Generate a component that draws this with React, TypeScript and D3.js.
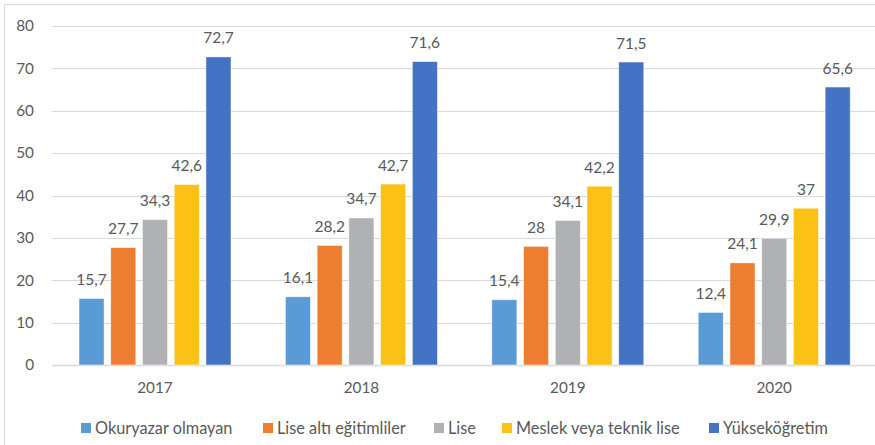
import React from "react";
import * as d3 from "d3";

const years = ["2017", "2018", "2019", "2020"];
const seriesNames = [
  "Okuryazar olmayan",
  "Lise altı eğitimliler",
  "Lise",
  "Meslek veya teknik lise",
  "Yükseköğretim",
];
const okuryazarOlmayan = [15.7, 16.1, 15.4, 12.4];
const liseAlti = [27.7, 28.2, 28, 24.1];
const lise = [34.3, 34.7, 34.1, 29.9];
const meslekTeknik = [42.6, 42.7, 42.2, 37];
const yuksekogretim = [72.7, 71.6, 71.5, 65.6];
const yTicks = [0, 10, 20, 30, 40, 50, 60, 70, 80];

const seriesValues = [okuryazarOlmayan, liseAlti, lise, meslekTeknik, yuksekogretim];
const colors = ["#5B9BD5", "#ED7D31", "#B0B1B4", "#FBC116", "#4472C4"];

const W = 875;
const H = 445;
const FONT = "Lato, 'Open Sans', sans-serif";
const TEXT = "#595959";
const GRID = "#D9D9D9";

const fmt = (v: number) => String(v).replace(".", ",");

// legend square x positions for each entry
const legendX = [81, 263, 434, 502, 709];

export default function App() {
  const y = d3.scaleLinear().domain([0, 80]).range([365, 26]);
  const x0 = d3.scaleBand<string>().domain(years).range([51.8, 877.4]).padding(0);
  const x1 = d3
    .scaleBand<number>()
    .domain(d3.range(seriesNames.length))
    .range([-76, 76])
    .paddingInner(0.21)
    .paddingOuter(0);

  return (
    <svg
      width={W}
      height={H}
      style={{ position: "absolute", left: 0, top: 0, background: "#fff" }}
      fontFamily={FONT}
    >
      <rect x={4.5} y={4.5} width={W + 20} height={H + 20} fill="#fff" stroke={GRID} />
      {yTicks.map((t) => (
        <g key={t}>
          <line x1={52} x2={W} y1={Math.round(y(t)) + 0.5} y2={Math.round(y(t)) + 0.5} stroke={GRID} strokeWidth={t === 0 ? 1.3 : 1} />
          <text x={34} y={y(t)} dy="0.35em" textAnchor="end" fontSize={15.3} fill={TEXT}>
            {t}
          </text>
        </g>
      ))}
      {years.map((yr, i) => {
        const cx = (x0(yr) as number) + x0.bandwidth() / 2;
        return (
          <g key={yr}>
            {seriesValues.map((vals, s) => {
              const v = vals[i];
              const bx = cx + (x1(s) as number);
              return (
                <g key={s}>
                  <rect
                    x={bx}
                    y={y(v)}
                    width={x1.bandwidth()}
                    height={y(0) - y(v)}
                    fill={colors[s]}
                    stroke="#fff"
                    strokeOpacity={0.6}
                    strokeWidth={0.8}
                  />
                  <text
                    x={bx + x1.bandwidth() / 2}
                    y={y(v) - 13.5}
                    textAnchor="middle"
                    fontSize={15.5}
                    fill={TEXT}
                  >
                    {fmt(v)}
                  </text>
                </g>
              );
            })}
            <text x={cx} y={388} dy="0.35em" textAnchor="middle" fontSize={15.3} fill={TEXT}>
              {yr}
            </text>
          </g>
        );
      })}
      {seriesNames.map((name, s) => (
        <g key={name}>
          <rect x={legendX[s]} y={423} width={10} height={10} fill={colors[s]} />
          <text x={legendX[s] + 14} y={428} dy="0.35em" fontSize={16.3} fill={TEXT}>
            {name}
          </text>
        </g>
      ))}
    </svg>
  );
}
